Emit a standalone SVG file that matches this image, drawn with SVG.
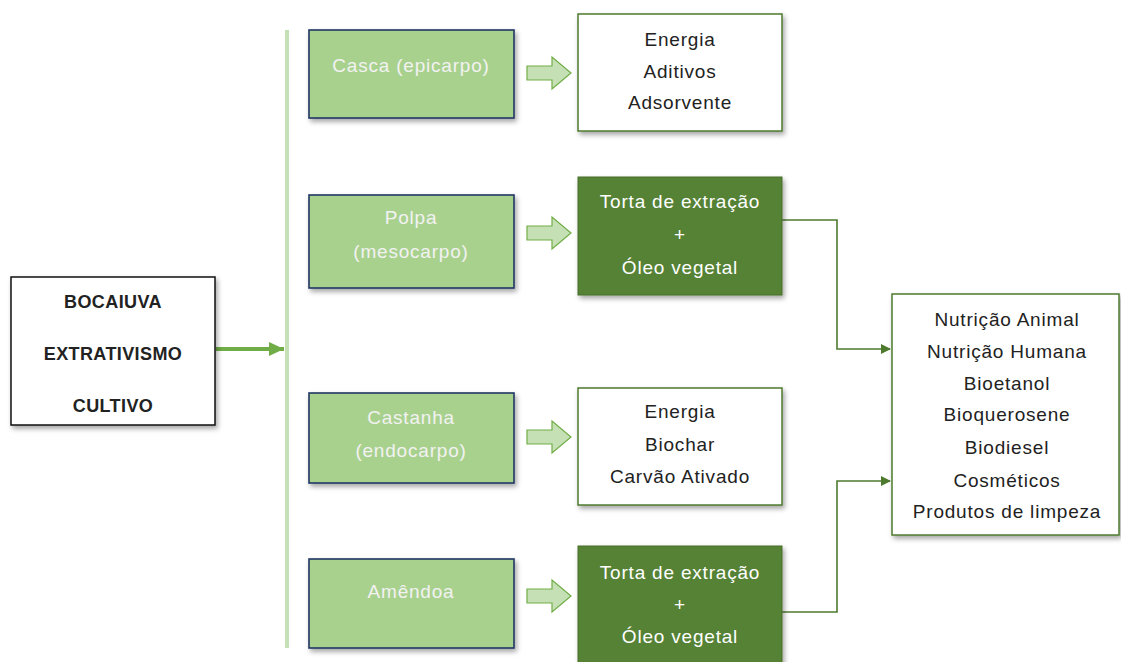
<svg xmlns="http://www.w3.org/2000/svg" width="1121" height="662" viewBox="0 0 1121 662">
<defs>
<filter id="sh" x="-10%" y="-10%" width="130%" height="130%">
<feDropShadow dx="2" dy="3" stdDeviation="2.5" flood-color="#000" flood-opacity="0.35"/>
</filter>
<marker id="ah" markerWidth="10" markerHeight="10" refX="9" refY="5" orient="auto" markerUnits="userSpaceOnUse">
<path d="M0,0 L10,5 L0,10 z" fill="#4e7a2e"/>
</marker>
<marker id="ahg" markerWidth="16" markerHeight="16" refX="15" refY="8" orient="auto" markerUnits="userSpaceOnUse">
<path d="M0,1 L15,8 L0,15 z" fill="#70ad47"/>
</marker>
<style>
text{font-family:"Liberation Sans",Arial,sans-serif;font-size:19px;text-anchor:middle;letter-spacing:0.8px}
.lt{fill:#f2f2f2}
.dk{fill:#222}
.wt{fill:#ffffff}
.b{font-weight:bold;font-size:18px;letter-spacing:0.4px;fill:#222}
.lg{fill:#a9d18e;stroke:#1f3864;stroke-width:1.6}
.dg{fill:#548235;stroke:#466e2b;stroke-width:1}
.wb{fill:#fff;stroke:#4e7a2e;stroke-width:1.5}
.bb{fill:#fff;stroke:#111;stroke-width:1.5}
.ba{fill:#c5e0b4;stroke:#70ad47;stroke-width:1.2}
.cn{fill:none;stroke:#4e7a2e;stroke-width:1.6}
</style>
</defs>
<rect width="1121" height="662" fill="#fff"/>

<g id="connectors">
<line x1="287" y1="30" x2="287" y2="648" stroke="#c5e0b4" stroke-width="4"/>
<line x1="216" y1="349" x2="284" y2="349" stroke="#70ad47" stroke-width="4" marker-end="url(#ahg)"/>
<polygon class="ba" points="527,66 552,66 552,57 571,73 552,89 552,80 527,80"/>
<polygon class="ba" points="527,226 552,226 552,217 571,233 552,249 552,240 527,240"/>
<polygon class="ba" points="527,430 552,430 552,421 571,437 552,453 552,444 527,444"/>
<polygon class="ba" points="527,589 552,589 552,580 571,596 552,612 552,603 527,603"/>
<path class="cn" d="M782,220 H837 V349 H890" marker-end="url(#ah)"/>
<path class="cn" d="M782,612 H837 V481 H890" marker-end="url(#ah)"/>
</g>

<g id="bocaiuva">
<rect class="bb" x="11" y="277" width="204" height="148" filter="url(#sh)"/>
<text class="b" x="113" y="308">BOCAIUVA</text>
<text class="b" x="113" y="360">EXTRATIVISMO</text>
<text class="b" x="113" y="412">CULTIVO</text>
</g>

<g id="casca">
<rect class="lg" x="309" y="30" width="205" height="88" filter="url(#sh)"/>
<text class="lt" x="411" y="72">Casca (epicarpo)</text>
</g>

<g id="casca-out">
<rect class="wb" x="578" y="14" width="204" height="117" filter="url(#sh)"/>
<text class="dk" x="680" y="46">Energia</text>
<text class="dk" x="680" y="78">Aditivos</text>
<text class="dk" x="680" y="109">Adsorvente</text>
</g>

<g id="polpa">
<rect class="lg" x="309" y="195" width="205" height="93" filter="url(#sh)"/>
<text class="lt" x="411" y="224">Polpa</text>
<text class="lt" x="411" y="258">(mesocarpo)</text>
</g>

<g id="polpa-out">
<rect class="dg" x="578" y="177" width="204" height="118" filter="url(#sh)"/>
<text class="wt" x="680" y="208">Torta de extração</text>
<text class="wt" x="680" y="241">+</text>
<text class="wt" x="680" y="274">Óleo vegetal</text>
</g>

<g id="castanha">
<rect class="lg" x="309" y="393" width="205" height="90" filter="url(#sh)"/>
<text class="lt" x="411" y="424">Castanha</text>
<text class="lt" x="411" y="457">(endocarpo)</text>
</g>

<g id="castanha-out">
<rect class="wb" x="578" y="388" width="204" height="117" filter="url(#sh)"/>
<text class="dk" x="680" y="418">Energia</text>
<text class="dk" x="680" y="451">Biochar</text>
<text class="dk" x="680" y="483">Carvão Ativado</text>
</g>

<g id="amendoa">
<rect class="lg" x="309" y="559" width="205" height="89" filter="url(#sh)"/>
<text class="lt" x="411" y="598">Amêndoa</text>
</g>

<g id="amendoa-out">
<rect class="dg" x="578" y="546" width="204" height="120" filter="url(#sh)"/>
<text class="wt" x="680" y="579">Torta de extração</text>
<text class="wt" x="680" y="611">+</text>
<text class="wt" x="680" y="643">Óleo vegetal</text>
</g>

<g id="produtos">
<rect class="wb" x="892" y="294" width="227" height="241" filter="url(#sh)"/>
<text class="dk" x="1007" y="326">Nutrição Animal</text>
<text class="dk" x="1007" y="358">Nutrição Humana</text>
<text class="dk" x="1007" y="390">Bioetanol</text>
<text class="dk" x="1007" y="421">Bioquerosene</text>
<text class="dk" x="1007" y="454">Biodiesel</text>
<text class="dk" x="1007" y="487">Cosméticos</text>
<text class="dk" x="1007" y="518">Produtos de limpeza</text>
</g>
</svg>
